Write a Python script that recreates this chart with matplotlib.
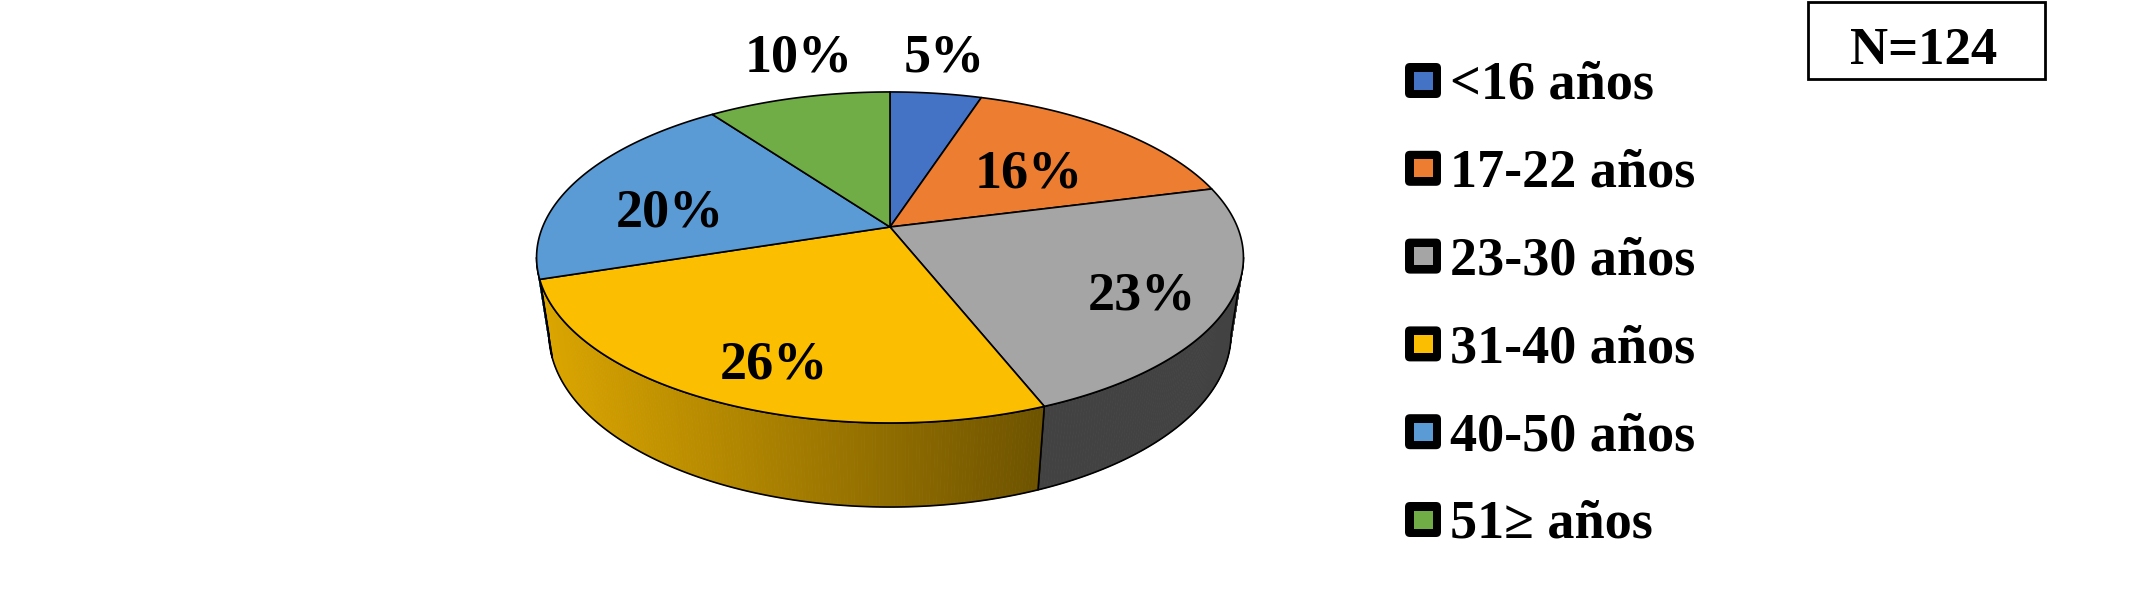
import numpy as np
import matplotlib
matplotlib.use('Agg')
import matplotlib.pyplot as plt
from matplotlib.patches import Polygon, Rectangle, FancyBboxPatch

# data
labels = ['<16 años', '17-22 años', '23-30 años', '31-40 años', '40-50 años', '51≥ años']
values = [5, 16, 23, 26, 20, 10]
n_total = 124

# style
colors = ['#4472C4', '#ED7D31', '#A5A5A5', '#FBBE00', '#5B9BD5', '#70AD47']
side_shade = [(0.7, 0.7), (0.7, 0.7), (0.40, 0.40), (0.87, 0.27), (0.72, 0.72), (0.7, 0.7)]
label_r = [1.3, 0.6, 0.77, 0.73, 0.66, 1.3]
label_nudge = [(-3, -8), (-3, 3), (-3, 4), (7, 13), (-10, 13), (22, -13)]
font = ['Liberation Serif', 'DejaVu Serif']
fs = 39
em = fs * 100 / 72.0

# perspective view of the pie (pixel units)
cx, cy = 890, 227
a, b, h = 347.4, 159.9, 78.4
k, m = 0.184, 0.035


def proj(t, r=1.0, z=0.0):
    u = r * np.cos(t)
    v = r * np.sin(t)
    w = 1 + k * v - m * z
    return cx + a * u / w, cy - (b * v + h * z) / w


fig = plt.figure(figsize=(21.39, 6.02), dpi=100)
ax = fig.add_axes([0, 0, 1, 1])
ax.set_xlim(0, 2139)
ax.set_ylim(602, 0)
ax.axis('off')

vals = np.array(values, dtype=float)
cum = np.concatenate([[0], np.cumsum(vals)]) / vals.sum()
t_edges = np.pi / 2 - 2 * np.pi * cum

# visible part of the side wall
t_lo = -np.pi + np.arcsin(k)
t_hi = -np.arcsin(k)

for i in range(len(values)):
    t1, t2 = t_edges[i], t_edges[i + 1]
    s1, s2 = min(t1, t_hi), max(t2, t_lo)
    if s1 <= s2:
        continue
    base = np.array(matplotlib.colors.to_rgb(colors[i]))
    n = max(int(np.degrees(s1 - s2) * 2), 2)
    ts = np.linspace(s1, s2, n + 1)
    for j in range(n):
        ta, tb = ts[j], ts[j + 1]
        xa, ya = proj(ta)
        xb, yb = proj(tb)
        xc, yc = proj(tb, z=-1)
        xd, yd = proj(ta, z=-1)
        f = ((xa + xb) / 2 - (cx - a)) / (2 * a)
        fac = side_shade[i][0] + (side_shade[i][1] - side_shade[i][0]) * f
        col = np.clip(base * fac, 0, 1)
        ax.add_patch(Polygon([(xa, ya), (xb, yb), (xc, yc), (xd, yd)],
                             closed=True, fc=col, ec=col, lw=0.6))
    tt = np.linspace(s1, s2, 200)
    top = np.column_stack(proj(tt))
    bot = np.column_stack(proj(tt[::-1], z=-1))
    ax.add_patch(Polygon(np.vstack([top, bot]), closed=True, fc='none',
                         ec='black', lw=1.2, joinstyle='round'))

# top face
for i in range(len(values)):
    tt = np.linspace(t_edges[i], t_edges[i + 1], 200)
    arc = np.column_stack(proj(tt))
    pts = np.vstack([[proj(0, r=0)], arc])
    ax.add_patch(Polygon(pts, closed=True, fc=colors[i], ec='black',
                         lw=1.2, joinstyle='round'))

# percentage labels
for i in range(len(values)):
    tm = (t_edges[i] + t_edges[i + 1]) / 2
    x, y = proj(tm, r=label_r[i])
    x += label_nudge[i][0]
    y += label_nudge[i][1]
    ax.text(x, y + 0.338 * em, '%d%%' % values[i], ha='center', va='baseline',
            fontsize=fs, fontweight='bold', family=font, color='black')

# legend
leg_x, leg_y0, leg_dy = 1423, 80.5, 87.8
for i, lab in enumerate(labels):
    yc = leg_y0 + i * leg_dy
    ax.add_patch(FancyBboxPatch((leg_x - 18, yc - 17.5), 36, 35,
                                boxstyle='round,pad=0,rounding_size=5',
                                fc='black', ec='none'))
    ax.add_patch(Rectangle((leg_x - 9.5, yc - 9), 19, 18, fc=colors[i], ec='none'))
    ax.text(leg_x + 27, yc + 0.338 * em, lab, ha='left', va='baseline',
            fontsize=fs, fontweight='bold', family=font, color='black')

# sample size box
ax.add_patch(Rectangle((1808, 1.5), 237, 77.5, fc='white', ec='black', lw=2))
ax.text(1924, 46.5 + 0.338 * 38 * 100 / 72.0, 'N=%d' % n_total, ha='center',
        va='baseline', fontsize=38, fontweight='bold', family=font, color='black')

fig.savefig('out.png', dpi=100)
